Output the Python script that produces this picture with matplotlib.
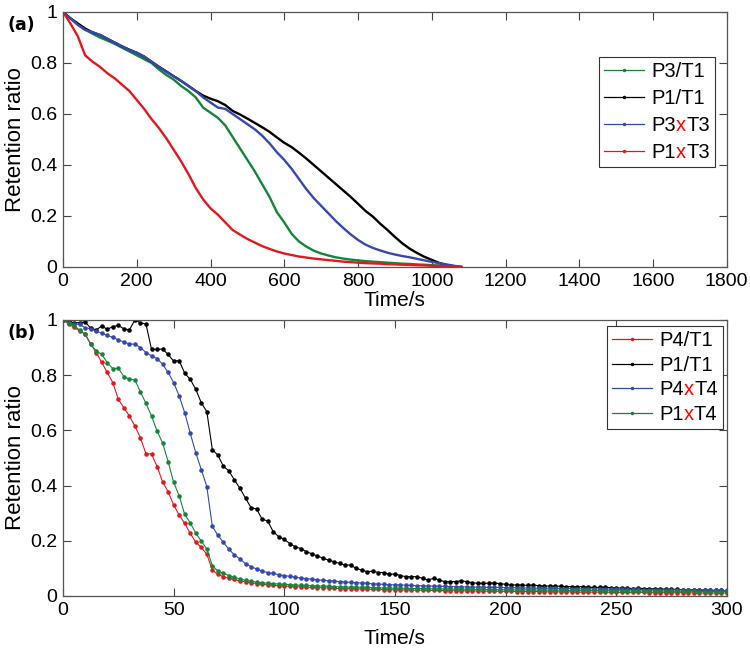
import matplotlib
matplotlib.use('Agg')
import matplotlib.pyplot as plt
import numpy as np
from matplotlib.lines import Line2D
from matplotlib.offsetbox import HPacker, TextArea

plt.rcParams['font.family'] = ['Liberation Sans', 'DejaVu Sans']

# ---- panel (a): retention ratio vs time, 0..1080 s, read every 20 s ----
t_a = np.arange(0, 1081, 20)

a_p3t1 = [1.0, 0.975, 0.95, 0.93, 0.915, 0.90, 0.888, 0.875, 0.86, 0.845,
          0.83, 0.815, 0.80, 0.775, 0.753, 0.735, 0.71, 0.69, 0.665, 0.625,
          0.605, 0.585, 0.555, 0.51, 0.465, 0.42, 0.375, 0.325, 0.275, 0.215,
          0.175, 0.13, 0.10, 0.08, 0.064, 0.053, 0.045, 0.038, 0.033, 0.029,
          0.026, 0.023, 0.021, 0.019, 0.017, 0.015, 0.013, 0.012, 0.010, 0.009,
          0.007, 0.006, 0.004, 0.002, 0.0]
a_p1t1 = [1.0, 0.975, 0.955, 0.935, 0.92, 0.91, 0.895, 0.88, 0.865, 0.852,
          0.84, 0.825, 0.805, 0.785, 0.767, 0.748, 0.73, 0.71, 0.69, 0.672,
          0.66, 0.65, 0.635, 0.612, 0.598, 0.582, 0.565, 0.548, 0.53, 0.508,
          0.487, 0.47, 0.448, 0.425, 0.40, 0.375, 0.35, 0.325, 0.30, 0.275,
          0.248, 0.22, 0.198, 0.17, 0.145, 0.118, 0.093, 0.072, 0.055, 0.04,
          0.028, 0.016, 0.008, 0.003, 0.0]
a_p3xt3 = [1.0, 0.975, 0.95, 0.93, 0.92, 0.91, 0.895, 0.88, 0.865, 0.85,
           0.84, 0.825, 0.805, 0.785, 0.765, 0.748, 0.73, 0.71, 0.69, 0.665,
           0.645, 0.625, 0.62, 0.60, 0.58, 0.56, 0.54, 0.515, 0.485, 0.45,
           0.42, 0.385, 0.345, 0.305, 0.27, 0.24, 0.21, 0.18, 0.153, 0.128,
           0.106, 0.088, 0.075, 0.065, 0.056, 0.049, 0.043, 0.038, 0.032, 0.026,
           0.020, 0.015, 0.010, 0.005, 0.0]
a_p1xt3 = [1.0, 0.955, 0.905, 0.83, 0.805, 0.785, 0.76, 0.74, 0.715, 0.69,
           0.655, 0.62, 0.58, 0.545, 0.505, 0.46, 0.415, 0.365, 0.31, 0.265,
           0.23, 0.205, 0.175, 0.145, 0.127, 0.11, 0.096, 0.082, 0.071, 0.061,
           0.053, 0.047, 0.041, 0.037, 0.033, 0.030, 0.027, 0.024, 0.021, 0.019,
           0.017, 0.015, 0.014, 0.013, 0.011, 0.010, 0.009, 0.008, 0.007, 0.006,
           0.005, 0.004, 0.003, 0.002, 0.0]

# ---- panel (b): 0..300 s, one sample every 2.5 s ----
dt_b = 2.5

b_p4t1 = [1.0, 0.985, 0.973, 0.96, 0.95, 0.913, 0.882, 0.846, 0.81, 0.773,
          0.713, 0.682, 0.652, 0.616, 0.573, 0.515, 0.515, 0.469, 0.414, 0.378,
          0.33, 0.293, 0.263, 0.227, 0.195, 0.176, 0.151, 0.094, 0.078, 0.07,
          0.064, 0.06, 0.054, 0.052, 0.048, 0.045, 0.043, 0.04, 0.039, 0.037,
          0.036, 0.035, 0.034, 0.033, 0.032, 0.031, 0.03, 0.03, 0.029, 0.028,
          0.027, 0.027, 0.026, 0.026, 0.025, 0.025, 0.024, 0.024, 0.023, 0.023,
          0.022, 0.022, 0.022, 0.021, 0.021, 0.021, 0.02, 0.02, 0.02, 0.019,
          0.019, 0.019, 0.019, 0.018, 0.018, 0.018, 0.018, 0.017, 0.017, 0.017,
          0.017, 0.017, 0.016, 0.016, 0.016, 0.016, 0.016, 0.015, 0.015, 0.015,
          0.015, 0.015, 0.015, 0.014, 0.014, 0.014, 0.014, 0.014, 0.014, 0.013,
          0.013, 0.013, 0.013, 0.013, 0.013, 0.013, 0.012, 0.012, 0.012, 0.012,
          0.012, 0.012, 0.012, 0.012, 0.011, 0.011, 0.011, 0.011, 0.011, 0.011,
          0.011]
b_p1t1 = [1.0, 0.995, 0.99, 0.99, 0.993, 0.97, 0.964, 0.978, 0.966, 0.976,
          0.98, 0.968, 0.964, 1.0, 0.99, 0.985, 0.894, 0.893, 0.895, 0.875,
          0.851, 0.853, 0.807, 0.785, 0.749, 0.70, 0.668, 0.53, 0.51, 0.47,
          0.453, 0.42, 0.39, 0.354, 0.32, 0.315, 0.278, 0.272, 0.233, 0.215,
          0.205, 0.19, 0.178, 0.172, 0.16, 0.153, 0.145, 0.137, 0.13, 0.124,
          0.118, 0.112, 0.112, 0.10, 0.094, 0.088, 0.09, 0.085, 0.085, 0.078,
          0.08, 0.074, 0.07, 0.07, 0.07, 0.064, 0.058, 0.064, 0.058, 0.052,
          0.052, 0.052, 0.055, 0.052, 0.048, 0.046, 0.046, 0.046, 0.047, 0.045,
          0.042, 0.04, 0.04, 0.04, 0.038, 0.04, 0.037, 0.036, 0.036, 0.036,
          0.035, 0.034, 0.034, 0.033, 0.034, 0.032, 0.031, 0.031, 0.032, 0.03,
          0.029, 0.029, 0.028, 0.027, 0.028, 0.027, 0.026, 0.026, 0.025, 0.025,
          0.024, 0.024, 0.023, 0.023, 0.022, 0.022, 0.021, 0.021, 0.02, 0.02,
          0.019]
b_p4xt4 = [1.0, 0.99, 0.985, 0.984, 0.972, 0.968, 0.96, 0.952, 0.944, 0.937,
           0.928, 0.92, 0.913, 0.912, 0.90, 0.882, 0.87, 0.86, 0.84, 0.81,
           0.773, 0.725, 0.664, 0.59, 0.519, 0.458, 0.396, 0.252, 0.22, 0.194,
           0.169, 0.149, 0.134, 0.117, 0.106, 0.098, 0.09, 0.085, 0.082, 0.077,
           0.074, 0.071, 0.068, 0.065, 0.063, 0.061, 0.058, 0.057, 0.055, 0.054,
           0.052, 0.051, 0.049, 0.048, 0.047, 0.046, 0.044, 0.043, 0.042, 0.041,
           0.04, 0.04, 0.039, 0.038, 0.037, 0.037, 0.036, 0.036, 0.035, 0.035,
           0.034, 0.034, 0.033, 0.033, 0.032, 0.032, 0.032, 0.031, 0.031, 0.031,
           0.03, 0.03, 0.03, 0.029, 0.029, 0.029, 0.028, 0.028, 0.028, 0.028,
           0.027, 0.027, 0.027, 0.026, 0.026, 0.026, 0.026, 0.025, 0.025, 0.025,
           0.025, 0.024, 0.024, 0.024, 0.024, 0.023, 0.023, 0.023, 0.023, 0.022,
           0.022, 0.022, 0.022, 0.021, 0.021, 0.021, 0.021, 0.02, 0.02, 0.02,
           0.02]
b_p1xt4 = [1.0, 0.99, 0.978, 0.964, 0.948, 0.912, 0.888, 0.876, 0.845, 0.824,
           0.825, 0.795, 0.785, 0.783, 0.739, 0.698, 0.652, 0.598, 0.555, 0.487,
           0.412, 0.363, 0.296, 0.265, 0.228, 0.199, 0.17, 0.11, 0.09, 0.082,
           0.074, 0.067, 0.062, 0.057, 0.053, 0.05, 0.048, 0.046, 0.045, 0.043,
           0.042, 0.041, 0.04, 0.039, 0.038, 0.037, 0.036, 0.036, 0.035, 0.034,
           0.033, 0.033, 0.032, 0.032, 0.031, 0.031, 0.03, 0.03, 0.029, 0.029,
           0.028, 0.028, 0.028, 0.027, 0.027, 0.027, 0.026, 0.026, 0.026, 0.025,
           0.025, 0.025, 0.025, 0.024, 0.024, 0.024, 0.024, 0.023, 0.023, 0.023,
           0.023, 0.022, 0.022, 0.022, 0.022, 0.022, 0.021, 0.021, 0.021, 0.021,
           0.021, 0.02, 0.02, 0.02, 0.02, 0.02, 0.02, 0.019, 0.019, 0.019,
           0.019, 0.019, 0.019, 0.018, 0.018, 0.018, 0.018, 0.018, 0.018, 0.017,
           0.017, 0.017, 0.017, 0.017, 0.017, 0.016, 0.016, 0.016, 0.016, 0.016,
           0.016]
t_b = np.arange(len(b_p1t1)) * dt_b

labels_a = ['P3/T1', 'P1/T1', 'P3xT3', 'P1xT3']
labels_b = ['P4/T1', 'P1/T1', 'P4xT4', 'P1xT4']

GREEN = '#16843a'
BLUE = '#3448b0'
RED = '#e5171c'
BLACK = '#000000'

FS_TICK = 14
FS_XLAB = 15
FS_YLAB = 16
FS_LEG = 14.5


def style_axes(ax):
    ax.tick_params(direction='in', top=True, right=True, length=6, width=0.8,
                   labelsize=FS_TICK, colors='#444444', labelcolor='black', pad=4)
    for sp in ax.spines.values():
        sp.set_color('#555555')
        sp.set_linewidth(0.9)
    ax.set_yticks([0, 0.2, 0.4, 0.6, 0.8, 1])
    ax.set_yticklabels(['0', '0.2', '0.4', '0.6', '0.8', '1'])
    ax.set_ylim(0, 1)
    ax.set_ylabel('Retention ratio', fontsize=FS_YLAB)
    ax.yaxis.set_label_coords(-0.055, 0.5)


def color_x(fig, leg):
    # rebuild the "PnxTn" legend labels so the "x" is red
    for col in leg._legend_handle_box.get_children():
        for item in col.get_children():
            kids = item.get_children()
            s = kids[1].get_text()
            if 'x' not in s:
                continue
            head, tail = s.split('x')
            parts = [TextArea(head, textprops=dict(fontsize=FS_LEG)),
                     TextArea('x', textprops=dict(fontsize=FS_LEG, color='red')),
                     TextArea(tail, textprops=dict(fontsize=FS_LEG))]
            kids[1] = HPacker(children=parts, pad=0, sep=0, align='baseline')
    leg._legend_box.set_figure(fig)


fig = plt.figure(figsize=(7.5, 6.49), dpi=100)
ax1 = fig.add_axes([0.084, 0.5886, 0.885, 0.393])
ax2 = fig.add_axes([0.084, 0.0817, 0.885, 0.4253])

# panel (a)
cols_a = [GREEN, BLACK, BLUE, RED]
for y, c in zip([a_p3t1, a_p1t1, a_p3xt3, a_p1xt3], cols_a):
    ax1.plot(t_a, y, color=c, lw=1.7)
style_axes(ax1)
ax1.set_xlim(0, 1800)
ax1.set_xticks(np.arange(0, 1801, 200))
ax1.set_xlabel('Time/s', fontsize=FS_XLAB)
ax1.xaxis.set_label_coords(0.5, -0.095)
h_a = [Line2D([], [], color=c, lw=0.9, marker='.', markersize=3) for c in cols_a]
leg1 = ax1.legend(h_a, labels_a, loc='upper right', bbox_to_anchor=(0.982, 0.8235),
                  borderaxespad=0, fontsize=FS_LEG, frameon=True, fancybox=False,
                  edgecolor='#333333', framealpha=1, handlelength=2.0,
                  handletextpad=0.35, labelspacing=0.4, borderpad=0.25)
leg1.get_frame().set_linewidth(0.8)

# panel (b)
cols_b = [RED, BLACK, BLUE, GREEN]
for y, c in zip([b_p4t1, b_p1t1, b_p4xt4, b_p1xt4], cols_b):
    ax2.plot(t_b, y, color=c, lw=0.8, marker='.', markersize=4.5)
style_axes(ax2)
ax2.set_xlim(0, 300)
ax2.set_xticks(np.arange(0, 301, 50))
ax2.set_xlabel('Time/s', fontsize=FS_XLAB)
ax2.xaxis.set_label_coords(0.5, -0.12)
h_b = [Line2D([], [], color=c, lw=0.9, marker='.', markersize=3) for c in cols_b]
leg2 = ax2.legend(h_b, labels_b, loc='upper right', bbox_to_anchor=(0.994, 0.978),
                  borderaxespad=0, fontsize=FS_LEG, frameon=True, fancybox=False,
                  edgecolor='#333333', framealpha=1, handlelength=2.0,
                  handletextpad=0.35, labelspacing=0.28, borderpad=0.25)
leg2.get_frame().set_linewidth(0.8)

color_x(fig, leg1)
color_x(fig, leg2)

fig.text(0.029, 0.961, '(a)', fontsize=12.5, fontweight='bold', family='DejaVu Sans',
         ha='center', va='center')
fig.text(0.029, 0.487, '(b)', fontsize=12.5, fontweight='bold', family='DejaVu Sans',
         ha='center', va='center')

fig.savefig('out.png', dpi=100)
